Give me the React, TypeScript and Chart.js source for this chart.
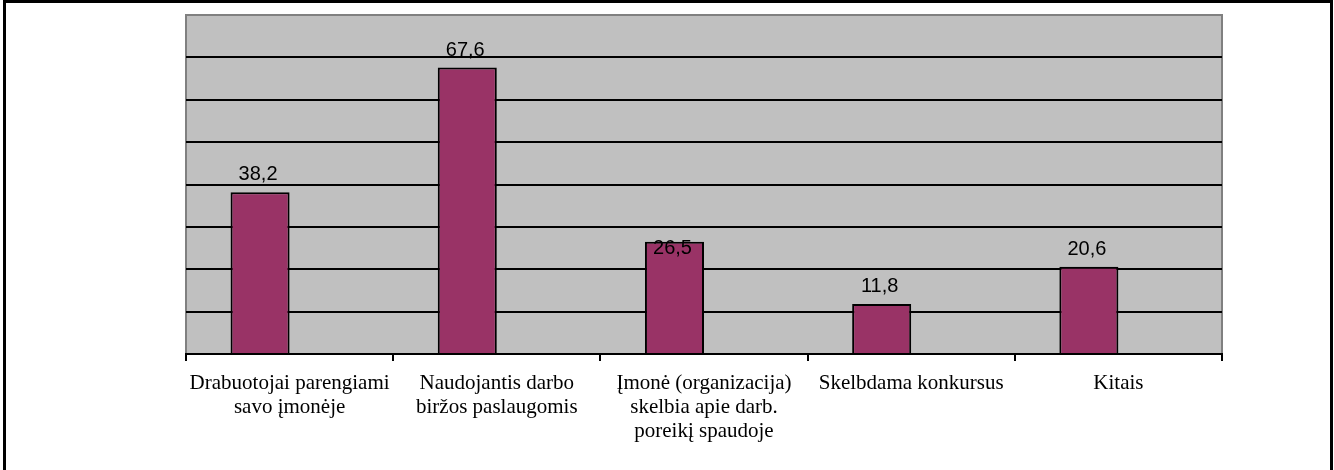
import React, { useEffect, useRef } from "react";
import { Chart, registerables } from "chart.js";

Chart.register(...registerables);

const categories: string[][] = [
  ["Drabuotojai parengiami", "savo įmonėje"],
  ["Naudojantis darbo", "biržos paslaugomis"],
  ["Įmonė (organizacija)", "skelbia apie darb.", "poreikį spaudoje"],
  ["Skelbdama konkursus"],
  ["Kitais"],
];
const values: number[] = [38.2, 67.6, 26.5, 11.8, 20.6];
const valueLabels: string[] = ["38,2", "67,6", "26,5", "11,8", "20,6"];
const emptySeries: (number | null)[] = [null, null, null, null, null];
const yMin = 0;
const yMax = 80;
const yStep = 10;

const W = 1334;
const H = 470;

export default function App() {
  const ref = useRef<HTMLCanvasElement | null>(null);

  useEffect(() => {
    document.body.style.margin = "0";
    const canvas = ref.current;
    if (!canvas) return;

    const plotBg = {
      id: "plotBg",
      beforeDraw(chart: any) {
        const { ctx, chartArea: a } = chart;
        ctx.save();
        ctx.fillStyle = "#ffffff";
        ctx.fillRect(0, 0, chart.width, chart.height);
        ctx.fillStyle = "#C0C0C0";
        ctx.fillRect(a.left, a.top, a.right - a.left, a.bottom - a.top);
        ctx.strokeStyle = "#808080";
        ctx.lineWidth = 2;
        ctx.beginPath();
        ctx.moveTo(a.left, a.bottom);
        ctx.lineTo(a.left, a.top);
        ctx.lineTo(a.right, a.top);
        ctx.lineTo(a.right, a.bottom);
        ctx.stroke();
        // outer frame
        ctx.fillStyle = "#000000";
        ctx.fillRect(3, 0, 3, chart.height);
        ctx.fillRect(3, 0, 1330, 3);
        ctx.fillRect(1330, 0, 3, chart.height);
        ctx.restore();
      },
    };

    const labelOffsets = [-12, -12, 12, -12, -12];
    const dataLabels = {
      id: "dataLabels",
      afterDatasetsDraw(chart: any) {
        const { ctx } = chart;
        const meta = chart.getDatasetMeta(0);
        ctx.save();
        ctx.fillStyle = "#000000";
        ctx.font = "20px 'Liberation Sans', Arial, sans-serif";
        ctx.textAlign = "center";
        ctx.textBaseline = "alphabetic";
        meta.data.forEach((bar: any, i: number) => {
          ctx.fillText(valueLabels[i], bar.x - 2, bar.y + labelOffsets[i]);
        });
        ctx.restore();
      },
    };

    const chart = new Chart(canvas, {
      type: "bar",
      data: {
        labels: categories,
        datasets: [
          {
            data: values,
            backgroundColor: "#993366",
            borderColor: "#000000",
            borderWidth: 2,
            categoryPercentage: 0.57,
            barPercentage: 1,
          },
          {
            data: emptySeries as any,
            backgroundColor: "#993366",
            categoryPercentage: 0.57,
            barPercentage: 1,
          },
        ],
      },
      options: {
        animation: false,
        responsive: false,
        devicePixelRatio: 1,
        layout: { padding: { left: 186, right: 112, top: 15, bottom: 0 } },
        plugins: {
          legend: { display: false },
          tooltip: { enabled: false },
          title: { display: false },
        },
        scales: {
          x: {
            offset: true,
            afterFit(scale: any) {
              scale.height = 116;
            },
            grid: {
              offset: true,
              drawOnChartArea: false,
              drawTicks: true,
              tickLength: 7,
              color: "#000000",
              lineWidth: 2,
            },
            border: { color: "#000000", width: 2 },
            ticks: {
              color: "#000000",
              font: { family: "'Liberation Serif', 'Times New Roman', serif", size: 21, lineHeight: 1.13 },
              padding: 11,
              maxRotation: 0,
              autoSkip: false,
            },
          },
          y: {
            min: yMin,
            max: yMax,
            afterFit(scale: any) {
              scale.width = 0;
            },
            ticks: { display: false, stepSize: yStep },
            grid: {
              drawTicks: false,
              color: (c: any) => (c.tick && c.tick.value === yMax ? "rgba(0,0,0,0)" : "#000000"),
              lineWidth: 2,
            },
            border: { display: false },
          },
        },
      },
      plugins: [plotBg, dataLabels],
    });

    return () => chart.destroy();
  }, []);

  return (
    <div style={{ width: W, height: H, position: "relative" }}>
      <canvas ref={ref} width={W} height={H} style={{ display: "block", width: W, height: H }} />
    </div>
  );
}
